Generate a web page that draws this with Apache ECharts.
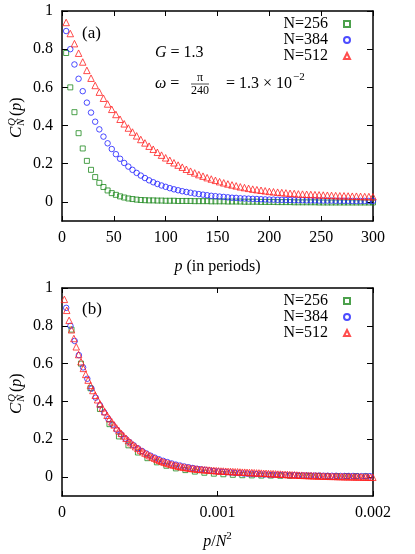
<!DOCTYPE html>
<html>
<head>
<meta charset="utf-8">
<script src="https://cdn.jsdelivr.net/npm/echarts@6.0.0/dist/echarts.min.js"></script>
<style>
  html, body { margin: 0; padding: 0; background: #fff; }
  #chart { width: 415px; height: 554px; }
</style>
</head>
<body>
<div id="chart"></div>
<script>
// lag p (in periods): first sample at p = 4, then every 4 periods
const lagStep = 4;
const seriesNames = ["N=256", "N=384", "N=512"];
const sizesN = [256, 384, 512];

// C_N^Q(p)
const corr256 = [
  0.78, 0.60, 0.47, 0.36, 0.28, 0.215, 0.168, 0.13, 0.10, 0.078,
  0.06, 0.046, 0.037, 0.029, 0.023, 0.018, 0.015, 0.012, 0.010, 0.009,
  0.008, 0.008, 0.007, 0.007, 0.006, 0.006, 0.006, 0.005, 0.005, 0.005,
  0.005, 0.004, 0.004, 0.004, 0.004, 0.003, 0.003, 0.003, 0.003, 0.002,
  0.002, 0.002, 0.002, 0.001, 0.001, 0.001, 0.001, 0.000, 0.000, 0.000,
  0.000, -0.001, -0.001, -0.001, -0.001, -0.002, -0.002, -0.002, -0.002, -0.002,
  -0.002, -0.003, -0.003, -0.003, -0.003, -0.003, -0.003, -0.003, -0.003, -0.003,
  -0.003, -0.003, -0.003, -0.003, -0.003
];
const corr384 = [
  0.895, 0.80, 0.72, 0.645, 0.58, 0.52, 0.468, 0.42, 0.38, 0.342,
  0.307, 0.277, 0.25, 0.226, 0.204, 0.185, 0.168, 0.152, 0.138, 0.125,
  0.113, 0.103, 0.094, 0.086, 0.079, 0.072, 0.066, 0.061, 0.056, 0.052,
  0.048, 0.044, 0.041, 0.038, 0.035, 0.032, 0.030, 0.028, 0.026, 0.024,
  0.022, 0.021, 0.019, 0.018, 0.017, 0.016, 0.015, 0.014, 0.013, 0.012,
  0.012, 0.011, 0.011, 0.010, 0.010, 0.009, 0.009, 0.009, 0.008, 0.008,
  0.008, 0.007, 0.007, 0.007, 0.007, 0.006, 0.006, 0.006, 0.006, 0.005,
  0.005, 0.005, 0.005, 0.005, 0.005
];
const corr512 = [
  0.940, 0.882, 0.829, 0.779, 0.733, 0.689, 0.648, 0.610, 0.575, 0.543,
  0.513, 0.485, 0.458, 0.433, 0.409, 0.387, 0.366, 0.346, 0.327, 0.309,
  0.292, 0.276, 0.260, 0.245, 0.231, 0.218, 0.205, 0.193, 0.182, 0.171,
  0.161, 0.152, 0.143, 0.135, 0.127, 0.120, 0.113, 0.106, 0.100, 0.094,
  0.089, 0.084, 0.079, 0.075, 0.071, 0.067, 0.064, 0.061, 0.058, 0.055,
  0.053, 0.051, 0.049, 0.047, 0.045, 0.044, 0.042, 0.041, 0.040, 0.039,
  0.038, 0.037, 0.036, 0.035, 0.034, 0.033, 0.032, 0.032, 0.031, 0.030,
  0.030, 0.029, 0.028, 0.028, 0.027,
  0.026, 0.026, 0.025, 0.024, 0.024, 0.023, 0.022, 0.022, 0.021, 0.020,
  0.020, 0.019, 0.018, 0.018, 0.017, 0.016, 0.016, 0.015, 0.014, 0.014,
  0.013, 0.012, 0.012, 0.011, 0.010, 0.010, 0.009, 0.009, 0.008, 0.008,
  0.007, 0.007, 0.006, 0.006, 0.005, 0.005, 0.005, 0.004, 0.004, 0.004,
  0.003, 0.003, 0.003, 0.002, 0.002, 0.002, 0.002, 0.001, 0.001, 0.001,
  0.001, 0.000, 0.000, 0.000, -0.001, -0.001
];
const allCorr = [corr256, corr384, corr512];

const yTicks = [0, 0.2, 0.4, 0.6, 0.8, 1];
const xTicksTop = [0, 50, 100, 150, 200, 250, 300];
const xTicksBottom = [0, 0.001, 0.002];

const FONT = "'Liberation Serif', 'Times New Roman', serif";
const colors = ["#1f8a1f", "#1f1fff", "#ff2020"];
const symbols = ["rect", "circle", "triangle"];
const symbolSizes = [5, 5.5, 6.5];

const chart = echarts.init(document.getElementById("chart"));

// tick label text style, given through rich so the serif face is kept
const tickRich = { t: { fontFamily: FONT, fontSize: 16, color: "#000" } };
const tickText = (v) => "{t|" + String(+(+v).toFixed(6)) + "}";

/* one panel's x axes (bottom with labels + mirrored top) */
function xAxes(gridIndex, ticks, name, nameRich) {
  const base = {
    gridIndex: gridIndex,
    type: "value",
    min: ticks[0],
    max: ticks[ticks.length - 1],
    interval: ticks[1] - ticks[0],
    splitLine: { show: false },
    axisLine: { onZero: false, lineStyle: { color: "#000", width: 1.5 } },
    axisTick: { inside: true, length: 5, lineStyle: { color: "#000", width: 1 } },
  };
  return [
    Object.assign({}, base, {
      position: "bottom",
      axisLabel: {
        color: "#000",
        fontFamily: FONT,
        fontSize: 16,
        margin: 9,
        formatter: tickText,
        rich: tickRich,
      },
      name: name,
      nameLocation: "middle",
      nameGap: 35,
      nameTextStyle: { color: "#000", fontFamily: FONT, fontSize: 16, lineHeight: 22, rich: nameRich },
    }),
    Object.assign({}, base, { position: "top", axisLabel: { show: false } }),
  ];
}

/* one panel's y axes (left with labels + mirrored right) */
function yAxes(gridIndex) {
  const base = {
    gridIndex: gridIndex,
    type: "value",
    min: -0.1,
    max: 1,
    splitLine: { show: false },
    axisLine: { onZero: false, lineStyle: { color: "#000", width: 1.5 } },
    axisTick: { inside: true, length: 6, customValues: yTicks, lineStyle: { color: "#000", width: 1 } },
  };
  return [
    Object.assign({}, base, {
      position: "left",
      axisLabel: {
        customValues: yTicks,
        color: "#000",
        fontFamily: FONT,
        fontSize: 16,
        margin: 9,
        formatter: tickText,
        rich: tickRich,
      },
    }),
    Object.assign({}, base, { position: "right", axisLabel: { show: false } }),
  ];
}

function yTitle(cx, cy) {
  const txt = { fill: "#000", fontFamily: FONT, verticalAlign: "middle", align: "left" };
  return {
    type: "group",
    x: cx,
    y: cy,
    rotation: Math.PI / 2,
    silent: true,
    children: [
      { type: "text", x: -21, y: 0, style: Object.assign({ text: "C", fontSize: 17, fontStyle: "italic" }, txt) },
      { type: "text", x: -9, y: -5, style: Object.assign({ text: "Q", fontSize: 11, fontStyle: "italic" }, txt) },
      { type: "text", x: -9, y: 4, style: Object.assign({ text: "N", fontSize: 11, fontStyle: "italic" }, txt) },
      {
        type: "text", x: 1, y: 0,
        style: Object.assign({
          text: "({i|p})", fontSize: 16,
          rich: { i: { fontStyle: "italic", fontSize: 16, fontFamily: FONT } },
        }, txt),
      },
    ],
  };
}

function legend(top) {
  return {
    top: top,
    right: 64,
    orient: "vertical",
    align: "right",
    padding: 0,
    itemGap: 0,
    itemWidth: 6,
    itemHeight: 6,
    selectedMode: false,
    data: seriesNames,
    textStyle: { color: "#000", fontFamily: FONT, fontSize: 16, lineHeight: 15.5, padding: [0, 11, 0, 0] },
  };
}

const series = [];
allCorr.forEach((vals, k) => {
  const style = {
    name: seriesNames[k],
    type: "scatter",
    symbol: symbols[k],
    symbolSize: symbolSizes[k],
    clip: true,
    silent: true,
    itemStyle: { color: "rgba(0,0,0,0)", borderColor: colors[k], borderWidth: 1 },
  };
  // (a) against p
  series.push(Object.assign({}, style, {
    xAxisIndex: 0, yAxisIndex: 0,
    data: vals.map((v, i) => [(i + 1) * lagStep, v]),
  }));
  // (b) against p / N^2
  const n2 = sizesN[k] * sizesN[k];
  series.push(Object.assign({}, style, {
    xAxisIndex: 2, yAxisIndex: 2,
    data: vals.map((v, i) => [((i + 1) * lagStep) / n2, v]),
  }));
});

const plain = { fill: "#000", fontFamily: FONT, fontSize: 16, verticalAlign: "middle", align: "left" };
const italicRich = { i: { fontStyle: "italic", fontFamily: FONT, fontSize: 16 } };

const option = {
  animation: false,
  textStyle: { fontFamily: FONT, color: "#000" },
  grid: [
    { left: 62, top: 11, width: 311, height: 210 },
    { left: 62, top: 288, width: 311, height: 211 },
  ],
  xAxis: [].concat(
    xAxes(0, xTicksTop, "{i|p} (in periods)", { i: { fontStyle: "italic", fontFamily: FONT, fontSize: 16, lineHeight: 22 } }),
    xAxes(1, xTicksBottom, "{i|p}/{i|N}{s|2}", {
      i: { fontStyle: "italic", fontFamily: FONT, fontSize: 16, lineHeight: 22 },
      s: { fontFamily: FONT, fontSize: 11, lineHeight: 11, verticalAlign: "top" },
    })
  ),
  yAxis: [].concat(yAxes(0), yAxes(1)),
  legend: [legend(16), legend(293)],
  series: series,
  graphic: [
    yTitle(17, 117),
    yTitle(17, 393),
    { type: "text", x: 82, y: 34, style: Object.assign({}, plain, { text: "(a)", fontSize: 17 }) },
    { type: "text", x: 82, y: 310, style: Object.assign({}, plain, { text: "(b)", fontSize: 17 }) },
    { type: "text", x: 155, y: 53, style: Object.assign({}, plain, { text: "{i|G} = 1.3", rich: italicRich }) },
    { type: "text", x: 155, y: 84, style: Object.assign({}, plain, { text: "{i|ω} =", rich: italicRich }) },
    { type: "text", x: 200, y: 78, style: Object.assign({}, plain, { text: "π", fontSize: 12, align: "center" }) },
    { type: "line", shape: { x1: 191, y1: 84, x2: 209, y2: 84 }, style: { stroke: "#000", lineWidth: 0.7 } },
    { type: "text", x: 200, y: 90.5, style: Object.assign({}, plain, { text: "240", fontSize: 12, align: "center" }) },
    { type: "text", x: 292, y: 84, style: Object.assign({}, plain, { text: "= 1.3 × 10", align: "right" }) },
    { type: "text", x: 293, y: 77, style: Object.assign({}, plain, { text: "−2", fontSize: 11 }) },
  ],
};

chart.setOption(option);
window.addEventListener("resize", () => {
  chart.resize();
});
</script>
</body>
</html>
